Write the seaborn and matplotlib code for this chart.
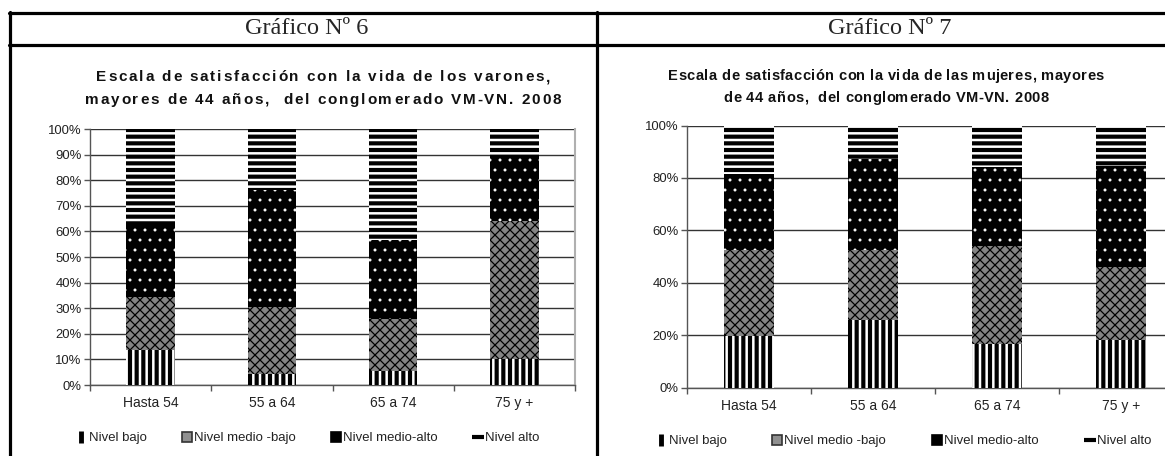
import matplotlib
matplotlib.use("Agg")
import matplotlib.pyplot as plt
import seaborn as sns
from matplotlib.lines import Line2D
from matplotlib.font_manager import FontProperties

# ---------------- data ----------------
categories = ["Hasta 54", "55 a 64", "65 a 74", "75 y +"]
levels = ["Nivel bajo", "Nivel medio -bajo", "Nivel medio-alto", "Nivel alto"]

varones_bajo = [13.5, 4.2, 5.3, 10.0]
varones_medio_bajo = [21.0, 26.1, 20.4, 54.0]
varones_medio_alto = [28.0, 45.9, 30.9, 25.2]
varones_alto = [37.5, 23.8, 43.4, 10.8]

mujeres_bajo = [19.7, 25.8, 16.5, 18.1]
mujeres_medio_bajo = [32.8, 26.7, 37.5, 28.0]
mujeres_medio_alto = [28.9, 34.7, 30.3, 38.6]
mujeres_alto = [18.6, 12.8, 15.7, 15.3]

titulo_6 = "Gráfico Nº 6"
titulo_7 = "Gráfico Nº 7"
sub_6 = ["Escala de satisfacción con la vida de los varones,",
         "mayores de 44 años,  del conglomerado VM-VN. 2008"]
sub_7 = ["Escala de satisfacción con la vida de las mujeres, mayores",
         "de 44 años,  del conglomerado VM-VN. 2008"]

# ---------------- style ----------------
sns.set_style("white")
plt.rcParams["font.family"] = ["Liberation Sans", "DejaVu Sans"]

DPI = 120
S = 100 / DPI          # sizes below are given as if at 100 dpi
W, H = 1165, 456
fig = plt.figure(figsize=(W / DPI, H / DPI), dpi=DPI)

styles = [
    dict(color="white", edgecolor="black", hatch="|||", hlw=3.0),
    dict(color="#848484", edgecolor="black", hatch="xxxx", hlw=0.9),
    dict(color="black", edgecolor="white", hatch="..", hlw=0.7),
    dict(color="white", edgecolor="black", hatch="---", hlw=3.0),
]


def fx(px):
    return px / W


def fy(py):
    return 1 - py / H


def legend_handles():
    return [
        Line2D([], [], linestyle="none", marker="|", markersize=8 * S,
               markeredgewidth=3.5 * S, color="black"),
        Line2D([], [], linestyle="none", marker="s", markersize=6.5 * S,
               markerfacecolor="#909090", markeredgecolor="#333333",
               markeredgewidth=1.2 * S),
        Line2D([], [], linestyle="none", marker="s", markersize=6.5 * S,
               color="black"),
        Line2D([], [], linestyle="none", marker="_", markersize=8 * S,
               markeredgewidth=3.0 * S, color="black"),
    ]


def draw_chart(rect, series, yticks, legend_x, legend_y, colspace):
    ax = fig.add_axes(rect)
    bottom = [0.0] * len(categories)
    for vals, st in zip(series, styles):
        with plt.rc_context({"hatch.linewidth": st["hlw"] * S}):
            sns.barplot(x=categories, y=vals, bottom=bottom, ax=ax, width=0.4,
                        saturation=1, errorbar=None, color=st["color"],
                        edgecolor=st["edgecolor"], hatch=st["hatch"],
                        linewidth=0, zorder=3)
        for p in ax.patches[-len(categories):]:
            try:
                p.set_hatch_linewidth(st["hlw"] * S)
            except Exception:
                pass
        bottom = [b + v for b, v in zip(bottom, vals)]
    ax.set_ylim(0, 100)
    ax.set_xlim(-0.5, len(categories) - 0.5)
    ax.set_yticks(yticks)
    ax.set_yticklabels([f"{t}%" for t in yticks])
    ax.yaxis.grid(True, color="#333333", linewidth=1.0 * S, zorder=0)
    ax.set_axisbelow(True)
    ax.set_xlabel("")
    ax.set_ylabel("")
    ax.spines["top"].set_visible(False)
    for s in ["left", "bottom"]:
        ax.spines[s].set_color("#555555")
        ax.spines[s].set_linewidth(1.0 * S)
    ax.spines["right"].set_color("#b0b0b0")
    ax.spines["right"].set_linewidth(1.5 * S)
    ax.tick_params(axis="y", length=4 * S, width=1 * S, color="#555555",
                   labelsize=9.5 * S, labelcolor="#222222", pad=2 * S, left=True)
    ax.set_xticks([i - 0.5 for i in range(len(categories) + 1)], minor=True)
    ax.tick_params(axis="x", which="minor", length=4 * S, width=1 * S,
                   color="#555555", bottom=True)
    ax.tick_params(axis="x", which="major", length=0, labelsize=10 * S,
                   labelcolor="#222222", pad=8 * S)
    ax.legend(legend_handles(), levels, ncol=4, frameon=False, loc="center left",
              bbox_to_anchor=(fx(legend_x), fy(legend_y)),
              bbox_transform=fig.transFigure, fontsize=9.5 * S,
              handlelength=0.5, handletextpad=0.3,
              columnspacing=colspace, borderpad=0, borderaxespad=0,
              labelcolor="#222222")
    return ax


# left chart
draw_chart([fx(90), fy(385), fx(575) - fx(90), fy(129) - fy(385)],
           [varones_bajo, varones_medio_bajo, varones_medio_alto, varones_alto],
           list(range(0, 101, 10)), 78, 438, 2.8)

# right chart
draw_chart([fx(687), fy(387.5), fx(1183) - fx(687), fy(125.5) - fy(387.5)],
           [mujeres_bajo, mujeres_medio_bajo, mujeres_medio_alto, mujeres_alto],
           list(range(0, 101, 20)), 658, 441, 3.6)

# table borders
lw = 2.3 * S
fig.add_artist(Line2D([fx(8.5), 1], [fy(13), fy(13)], transform=fig.transFigure,
                      color="black", lw=lw))
fig.add_artist(Line2D([fx(8.5), 1], [fy(44.5), fy(44.5)], transform=fig.transFigure,
                      color="black", lw=lw))
fig.add_artist(Line2D([fx(10), fx(10)], [fy(12), 0], transform=fig.transFigure,
                      color="black", lw=lw))
fig.add_artist(Line2D([fx(597), fx(597)], [fy(12), 0], transform=fig.transFigure,
                      color="black", lw=lw))

# headers
fig.text(fx(307), fy(28.5), titulo_6, family=["Liberation Serif", "DejaVu Serif"],
         fontsize=17.5 * S, ha="center", va="center")
fig.text(fx(890), fy(28.5), titulo_7, family=["Liberation Serif", "DejaVu Serif"],
         fontsize=17.5 * S, ha="center", va="center")

# letter-spaced chart titles
renderer = fig.canvas.get_renderer()


def advances(s, prop):
    def w(t):
        return renderer.get_text_width_height_descent(t, prop, ismath=False)[0]
    base = w("xx")
    return [w("x" + c + "x") - base for c in s]


def spaced_lines(cx, lines, baselines, size, target_w):
    prop = FontProperties(family=["Liberation Sans", "DejaVu Sans"],
                          weight="bold", size=size * S)
    adv0 = advances(lines[0], prop)
    sp = (target_w - sum(adv0)) / (len(lines[0]) - 1)
    for line, by in zip(lines, baselines):
        adv = advances(line, prop)
        total = sum(adv) + sp * (len(line) - 1)
        x = cx - total / 2
        for c, a in zip(line, adv):
            if c != " ":
                fig.text(fx(x), fy(by), c, fontproperties=prop, ha="left",
                         va="baseline", color="#111111")
            x += a + sp


spaced_lines(323, sub_6, (81, 104), 11.0, 454)
spaced_lines(886, sub_7, (80, 102), 10.5, 436)

fig.savefig("out.png", dpi=DPI)
